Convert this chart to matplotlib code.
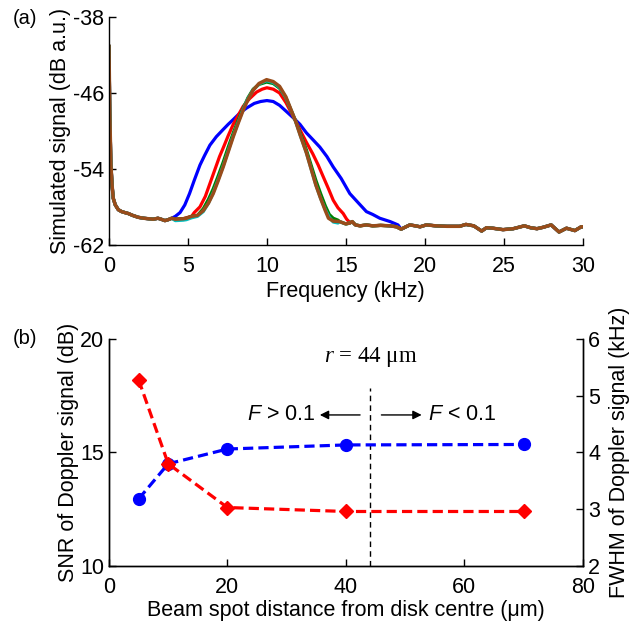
import matplotlib
matplotlib.use("Agg")
import matplotlib.pyplot as plt
import numpy as np

plt.rcParams['font.family'] = ['Liberation Sans', 'DejaVu Sans']
plt.rcParams['mathtext.fontset'] = 'custom'
plt.rcParams['mathtext.it'] = 'Liberation Serif:italic'
plt.rcParams['mathtext.rm'] = 'Liberation Serif'
plt.rcParams['mathtext.sf'] = 'Liberation Sans:italic'

# ---------------- Panel (a) data ----------------
f_floor_left = [0.0, 0.05, 0.12, 0.2, 0.27, 0.4, 0.59, 0.8, 1.0, 1.22, 1.5, 1.85, 2.2, 2.5, 2.8, 3.1, 3.3, 3.54, 3.75, 3.97]
v_floor_left = [-41.1, -48.0, -53.5, -55.8, -57.1, -57.8, -58.3, -58.5, -58.6, -58.7, -58.9, -59.1, -59.2, -59.25, -59.3, -59.2, -59.3, -59.45, -59.35, -59.2]

f_floor_mid = [14.6, 15.0, 15.25, 15.4, 15.6, 15.9, 16.3, 16.7, 17.2, 17.8, 18.2]
v_floor_mid = [-59.55, -59.8, -59.7, -59.55, -59.9, -60.0, -59.9, -60.0, -59.95, -60.0, -60.1]

f_floor_right = [18.5, 19.05, 19.4, 19.7, 20.1, 20.7, 21.4, 22.2, 22.6, 23.1, 23.6, 23.9, 24.3, 24.95, 25.6, 26.3, 26.7, 27.1, 27.5, 28.0, 28.5, 28.97, 29.5, 29.9, 30.0]
v_floor_right = [-60.35, -59.9, -60.0, -60.1, -59.9, -60.0, -60.05, -60.05, -59.85, -60.0, -60.55, -60.2, -60.25, -60.4, -60.3, -60.0, -60.2, -60.3, -60.15, -59.9, -60.65, -60.25, -60.5, -60.1, -60.1]

f_blue_peak = [4.2, 4.5, 4.8, 5.1, 5.4, 5.76, 6.05, 6.39, 6.8, 7.2, 7.55, 7.87, 8.3, 8.7, 9.2, 9.6, 10.0, 10.4, 10.8, 11.2, 11.66, 12.09, 12.5, 12.9, 13.35, 13.8, 14.2, 14.7, 15.25, 15.8, 16.3, 16.7, 17.15, 17.8, 18.3]
v_blue_peak = [-59.0, -58.6, -57.8, -56.6, -55.2, -53.6, -52.6, -51.5, -50.6, -49.9, -49.3, -48.8, -48.1, -47.6, -47.1, -46.9, -46.8, -46.9, -47.3, -47.9, -48.6, -49.3, -50.2, -50.9, -51.7, -52.7, -53.8, -55.0, -56.6, -57.6, -58.5, -58.8, -59.2, -59.55, -59.9]

f_red_peak = [4.2, 4.7, 5.0, 5.23, 5.4, 5.76, 6.1, 6.4, 6.7, 7.0, 7.23, 7.55, 7.87, 8.2, 8.5, 8.9, 9.35, 9.7, 10.0, 10.4, 10.8, 11.2, 11.8, 12.1, 12.5, 12.9, 13.25, 13.56, 13.9, 14.2, 14.5, 14.83, 15.05, 15.25]
v_red_peak = [-59.3, -59.25, -59.1, -59.0, -58.6, -58.0, -56.9, -55.5, -54.1, -52.7, -51.8, -50.5, -49.3, -48.3, -47.4, -46.6, -45.9, -45.6, -45.45, -45.6, -46.0, -47.0, -48.9, -49.9, -51.2, -52.4, -53.6, -54.8, -56.1, -57.3, -58.1, -58.7, -59.3, -59.65]

f_green_peak = [4.2, 4.7, 4.9, 5.23, 5.6, 5.97, 6.3, 6.6, 6.9, 7.23, 7.55, 7.87, 8.2, 8.5, 8.8, 9.13, 9.5, 9.98, 10.4, 10.8, 11.2, 11.8, 12.1, 12.5, 12.8, 13.1, 13.4, 13.7, 13.95, 14.2, 14.5]
v_green_peak = [-59.3, -59.25, -59.2, -59.0, -58.9, -58.2, -57.2, -56.1, -54.8, -53.3, -51.7, -50.2, -48.8, -47.6, -46.5, -45.6, -45.1, -44.85, -45.0, -45.5, -46.5, -48.9, -50.2, -52.0, -53.6, -55.2, -56.6, -57.9, -58.8, -59.2, -59.4]

f_cyan_peak = [4.2, 4.7, 4.9, 5.23, 5.6, 5.97, 6.3, 6.6, 6.9, 7.23, 7.55, 7.87, 8.2, 8.5, 8.8, 9.13, 9.5, 9.98, 10.4, 10.8, 11.2, 11.8, 12.1, 12.5, 12.8, 13.1, 13.4, 13.7, 13.95, 14.2, 14.5]
v_cyan_peak = [-59.45, -59.4, -59.35, -59.15, -59.0, -58.5, -57.6, -56.5, -55.2, -53.7, -52.1, -50.5, -49.0, -47.7, -46.6, -45.7, -45.05, -44.7, -44.9, -45.4, -46.5, -48.9, -50.4, -52.3, -54.0, -55.7, -57.1, -58.3, -59.1, -59.6, -59.7]

f_brown_peak = [4.2, 4.7, 4.9, 5.23, 5.6, 5.97, 6.3, 6.6, 6.9, 7.23, 7.55, 7.87, 8.2, 8.5, 8.8, 9.13, 9.5, 9.98, 10.4, 10.8, 11.2, 11.8, 12.1, 12.5, 12.8, 13.1, 13.4, 13.7, 13.9, 14.2]
v_brown_peak = [-59.3, -59.25, -59.2, -59.0, -58.9, -58.4, -57.6, -56.6, -55.3, -53.8, -52.2, -50.6, -49.1, -47.8, -46.7, -45.7, -45.0, -44.6, -44.8, -45.3, -46.4, -48.9, -50.4, -52.3, -54.0, -55.7, -57.1, -58.4, -59.2, -59.5]

# ---------------- Panel (b) data ----------------
distance = [5, 10, 20, 40, 70]
snr_db = [12.95, 14.5, 15.15, 15.33, 15.35]
fwhm_khz = [5.28, 3.8, 3.03, 2.96, 2.96]
r_disk = 44

FS = 15.5

fig = plt.figure(figsize=(6.30, 6.31), dpi=100)

def style(ax):
    ax.tick_params(direction='in', length=5, width=1, labelsize=FS, colors='black')
    ax.tick_params(axis='x', pad=8)
    for s in ax.spines.values():
        s.set_linewidth(1)

# ---- panel (a)
ax1 = fig.add_axes([0.173, 0.612, 0.752, 0.361])
blue_f = f_floor_left + f_blue_peak + f_floor_right
blue_v = v_floor_left + v_blue_peak + v_floor_right
red_f = f_floor_left + f_red_peak + f_floor_mid[2:] + f_floor_right
red_v = v_floor_left + v_red_peak + v_floor_mid[2:] + v_floor_right
green_f = f_floor_left + f_green_peak + f_floor_mid + f_floor_right
green_v = v_floor_left + v_green_peak + v_floor_mid + v_floor_right
cyan_f = f_floor_left + f_cyan_peak + f_floor_mid + f_floor_right
cyan_v = v_floor_left + v_cyan_peak + v_floor_mid + v_floor_right
brown_f = f_floor_left + f_brown_peak + f_floor_mid + f_floor_right
brown_v = v_floor_left + v_brown_peak + v_floor_mid + v_floor_right

ax1.plot(blue_f, blue_v, color='#0000FF', lw=2.3)
ax1.plot(red_f, red_v, color='#FF0000', lw=2.3)
ax1.plot(green_f, green_v, color='#008000', lw=2.3)
ax1.plot(cyan_f, cyan_v, color='#00BFBF', lw=2.3)
ax1.plot(brown_f, brown_v, color='#994C1A', lw=2.5)
ax1.set_xlim(0, 30)
ax1.set_ylim(-62, -38)
ax1.set_xticks([0, 5, 10, 15, 20, 25, 30])
ax1.set_yticks([-38, -46, -54, -62])
ax1.set_yticklabels(['-38', '-46', '-54', '-62'])
ax1.spines['top'].set_visible(False)
ax1.spines['right'].set_visible(False)
style(ax1)
ax1.set_xlabel('Frequency (kHz)', fontsize=FS, labelpad=3)
ax1.set_ylabel('Simulated signal (dB a.u.)', fontsize=FS, labelpad=1)
fig.text(0.021, 0.985, '(a)', fontsize=14.5, va='top', ha='left')

# ---- panel (b)
ax2 = fig.add_axes([0.173, 0.103, 0.752, 0.360])
ax3 = ax2.twinx()
ax2.plot(distance, snr_db, color='#0000FF', lw=2.3, ls=(0, (3.2, 1.6)),
         marker='o', ms=8.5, zorder=3)
ax3.plot(distance, fwhm_khz, color='#FF0000', lw=2.3, ls=(0, (3.2, 1.6)),
         marker='D', ms=7, zorder=3)
ax2.set_xlim(0, 80)
ax2.set_ylim(10, 20)
ax3.set_ylim(2, 6)
ax2.set_xticks([0, 20, 40, 60, 80])
ax2.set_yticks([10, 15, 20])
ax3.set_yticks([2, 3, 4, 5, 6])
for a in (ax2, ax3):
    a.spines['top'].set_visible(False)
    style(a)
ax3.tick_params(axis='y', pad=4)
ax2.set_xlabel('Beam spot distance from disk centre (μm)', fontsize=FS, labelpad=1)
ax2.set_ylabel('SNR of Doppler signal (dB)', fontsize=FS, labelpad=1)
ax3.set_ylabel('FWHM of Doppler signal (kHz)', fontsize=FS, labelpad=6)
fig.text(0.021, 0.478, '(b)', fontsize=14.5, va='top', ha='left')

ax2.plot([r_disk, r_disk], [10, 17.85], color='black', lw=1, ls=(0, (4, 3)))
ax2.text(r_disk + 0.2, 19.22, '$r$ = 44 μm', family='Liberation Serif', fontsize=16.5,
         ha='center', va='center')
ax2.text(34.9, 16.65, r'$\mathsf{F}$ > 0.1', fontsize=FS, ha='right', va='center')
ax2.text(53.9, 16.65, r'$\mathsf{F}$ < 0.1', fontsize=FS, ha='left', va='center')
ax2.annotate('', xy=(35.6, 16.65), xytext=(42.4, 16.65),
             arrowprops=dict(arrowstyle='-|>', color='black', lw=1, mutation_scale=13,
                             shrinkA=0, shrinkB=0))
ax2.annotate('', xy=(52.8, 16.65), xytext=(46.0, 16.65),
             arrowprops=dict(arrowstyle='-|>', color='black', lw=1, mutation_scale=13,
                             shrinkA=0, shrinkB=0))

fig.savefig('out.png', dpi=100)
